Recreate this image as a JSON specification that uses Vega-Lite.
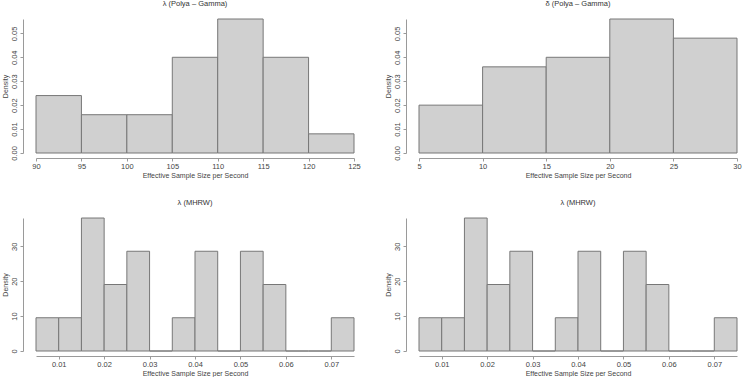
{
  "$schema": "https://vega.github.io/schema/vega-lite/v6.json",
  "background": "white",
  "padding": {"left": 0, "top": 0, "right": 0, "bottom": 0},
  "autosize": {"type": "pad"},
  "config": {
    "view": {"stroke": null},
    "font": "Liberation Sans",
    "title": {"fontSize": 7.5, "fontWeight": "normal", "color": "#333333", "anchor": "middle", "offset": 11, "font": "Liberation Sans"},
    "axis": {
      "grid": false,
      "domainColor": "#9a9a9a",
      "tickColor": "#9a9a9a",
      "tickSize": 3,
      "labelColor": "#444444",
      "labelFontSize": 7.5,
      "labelFont": "Liberation Sans",
      "titleColor": "#444444",
      "titleFontSize": 7,
      "titleFont": "Liberation Sans",
      "titleFontWeight": "normal"
    },
    "axisX": {"offset": 5, "labelPadding": 1, "titlePadding": 2, "labelFlush": false},
    "axisY": {"offset": 13, "labelAngle": 270, "labelAlign": "center", "labelBaseline": "bottom", "labelPadding": 2, "titlePadding": 2, "labelFlush": false}
  },
  "datasets": {
    "lambda_pg": [
      {"bin_start": 90, "bin_end": 95, "density": 0.024},
      {"bin_start": 95, "bin_end": 100, "density": 0.016},
      {"bin_start": 100, "bin_end": 105, "density": 0.016},
      {"bin_start": 105, "bin_end": 110, "density": 0.04},
      {"bin_start": 110, "bin_end": 115, "density": 0.056},
      {"bin_start": 115, "bin_end": 120, "density": 0.04},
      {"bin_start": 120, "bin_end": 125, "density": 0.008}
    ],
    "delta_pg": [
      {"bin_start": 5, "bin_end": 10, "density": 0.02},
      {"bin_start": 10, "bin_end": 15, "density": 0.036},
      {"bin_start": 15, "bin_end": 20, "density": 0.04},
      {"bin_start": 20, "bin_end": 25, "density": 0.056},
      {"bin_start": 25, "bin_end": 30, "density": 0.048}
    ],
    "lambda_mhrw": [
      {"bin_start": 0.005, "bin_end": 0.01, "density": 9.524},
      {"bin_start": 0.01, "bin_end": 0.015, "density": 9.524},
      {"bin_start": 0.015, "bin_end": 0.02, "density": 38.095},
      {"bin_start": 0.02, "bin_end": 0.025, "density": 19.048},
      {"bin_start": 0.025, "bin_end": 0.03, "density": 28.571},
      {"bin_start": 0.03, "bin_end": 0.035, "density": 0},
      {"bin_start": 0.035, "bin_end": 0.04, "density": 9.524},
      {"bin_start": 0.04, "bin_end": 0.045, "density": 28.571},
      {"bin_start": 0.045, "bin_end": 0.05, "density": 0},
      {"bin_start": 0.05, "bin_end": 0.055, "density": 28.571},
      {"bin_start": 0.055, "bin_end": 0.06, "density": 19.048},
      {"bin_start": 0.06, "bin_end": 0.065, "density": 0},
      {"bin_start": 0.065, "bin_end": 0.07, "density": 0},
      {"bin_start": 0.07, "bin_end": 0.075, "density": 9.524}
    ]
  },
  "columns": 2,
  "spacing": {"column": 22, "row": 20},
  "concat": [
    {
      "title": "λ (Polya – Gamma)",
      "width": 318,
      "height": 134,
      "data": {"name": "lambda_pg"},
      "mark": {"type": "rect", "fill": "#d0d0d0", "stroke": "#777777", "strokeWidth": 1},
      "encoding": {
        "x": {"field": "bin_start", "type": "quantitative", "scale": {"domain": [90, 125], "nice": false, "zero": false},
              "axis": {"title": "Effective Sample Size per Second", "values": [90, 95, 100, 105, 110, 115, 120, 125], "format": "d"}},
        "x2": {"field": "bin_end"},
        "y": {"field": "density", "type": "quantitative", "scale": {"domain": [0, 0.056], "nice": false},
              "axis": {"title": "Density", "values": [0, 0.01, 0.02, 0.03, 0.04, 0.05], "format": ".2f"}},
        "y2": {"datum": 0}
      }
    },
    {
      "title": "δ (Polya – Gamma)",
      "width": 318,
      "height": 134,
      "data": {"name": "delta_pg"},
      "mark": {"type": "rect", "fill": "#d0d0d0", "stroke": "#777777", "strokeWidth": 1},
      "encoding": {
        "x": {"field": "bin_start", "type": "quantitative", "scale": {"domain": [5, 30], "nice": false, "zero": false},
              "axis": {"title": "Effective Sample Size per Second", "values": [5, 10, 15, 20, 25, 30], "format": "d"}},
        "x2": {"field": "bin_end"},
        "y": {"field": "density", "type": "quantitative", "scale": {"domain": [0, 0.056], "nice": false},
              "axis": {"title": "Density", "values": [0, 0.01, 0.02, 0.03, 0.04, 0.05], "format": ".2f"}},
        "y2": {"datum": 0}
      }
    },
    {
      "title": "λ (MHRW)",
      "width": 318,
      "height": 133,
      "data": {"name": "lambda_mhrw"},
      "mark": {"type": "rect", "fill": "#d0d0d0", "stroke": "#777777", "strokeWidth": 1},
      "encoding": {
        "x": {"field": "bin_start", "type": "quantitative", "scale": {"domain": [0.005, 0.075], "nice": false, "zero": false},
              "axis": {"title": "Effective Sample Size per Second", "values": [0.01, 0.02, 0.03, 0.04, 0.05, 0.06, 0.07], "format": ".2f"}},
        "x2": {"field": "bin_end"},
        "y": {"field": "density", "type": "quantitative", "scale": {"domain": [0, 38.1], "nice": false},
              "axis": {"title": "Density", "values": [0, 10, 20, 30], "format": "d"}},
        "y2": {"datum": 0}
      }
    },
    {
      "title": "λ (MHRW)",
      "width": 318,
      "height": 133,
      "data": {"name": "lambda_mhrw"},
      "mark": {"type": "rect", "fill": "#d0d0d0", "stroke": "#777777", "strokeWidth": 1},
      "encoding": {
        "x": {"field": "bin_start", "type": "quantitative", "scale": {"domain": [0.005, 0.075], "nice": false, "zero": false},
              "axis": {"title": "Effective Sample Size per Second", "values": [0.01, 0.02, 0.03, 0.04, 0.05, 0.06, 0.07], "format": ".2f"}},
        "x2": {"field": "bin_end"},
        "y": {"field": "density", "type": "quantitative", "scale": {"domain": [0, 38.1], "nice": false},
              "axis": {"title": "Density", "values": [0, 10, 20, 30], "format": "d"}},
        "y2": {"datum": 0}
      }
    }
  ]
}
